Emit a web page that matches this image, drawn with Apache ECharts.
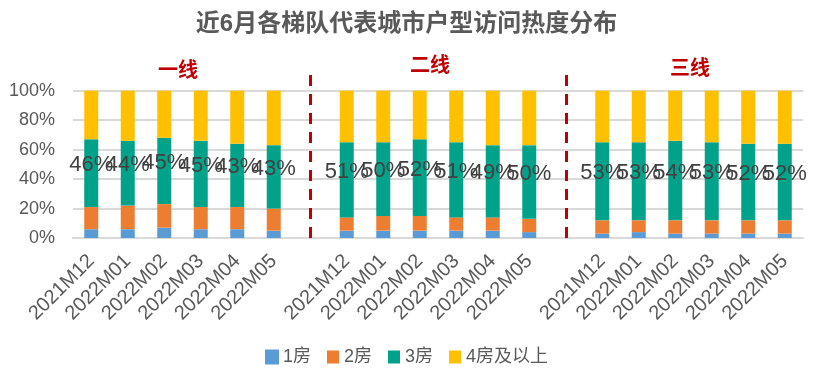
<!DOCTYPE html>
<html>
<head>
<meta charset="utf-8">
<script src="https://cdn.jsdelivr.net/npm/echarts@6/dist/echarts.min.js"></script>
<style>html,body{margin:0;padding:0;background:#fff;}#c{width:813px;height:387px;}</style>
</head>
<body>
<div id="c"></div>
<script>
const months = ['2021M12','2022M01','2022M02','2022M03','2022M04','2022M05'];
const tiers = ['一线','二线','三线'];
const seriesNames = ['1房','2房','3房','4房及以上'];
// values per tier, per month (%)
const room1 = [[6,6,7,6,6,5],[5,5,5,5,5,4],[3,4,3,3,3,3]];
const room2 = [[15,16,16,15,15,15],[9,10,10,9,9,9],[9,8,9,9,9,9]];
const room3 = [[46,44,45,45,43,43],[51,50,52,51,49,50],[53,53,54,53,52,52]];
const room4 = [[33,34,32,34,36,37],[35,35,33,35,37,37],[35,35,34,35,36,36]];
const yTicks = [0,20,40,60,80,100];

const FONT = 'Liberation Sans, Noto Sans CJK SC, sans-serif';
const GRAY = '#595959';

// build categories with an empty slot between tiers
const categories = [];
tiers.forEach((t, i) => {
  if (i > 0) categories.push('');
  months.forEach(m => categories.push(m));
});
function flat(arr) {
  const out = [];
  arr.forEach((g, i) => { if (i > 0) out.push('-'); g.forEach(v => out.push(v)); });
  return out;
}
const sepIdx = [months.length - 0.05, months.length * 2 + 1 + 0.1];

const colors = ['#5B9BD5','#ED7D31','#00A28A','#FFC000'];
const datas = [room1, room2, room3, room4];

const series = seriesNames.map((name, k) => {
  const s = {
    name, type: 'bar', stack: 'all', barWidth: 14,
    data: flat(datas[k]),
    itemStyle: { color: colors[k] },
    emphasis: { disabled: true }
  };
  if (k === 0) {
    s.itemStyle.borderColor = colors[0];
    s.itemStyle.borderWidth = 3;
  }
  if (k === 2) {
    s.label = {
      show: true, position: 'inside', offset: [0, -8],
      formatter: p => p.value + '%',
      fontSize: 22, color: '#404040', fontFamily: FONT,
      textBorderWidth: 0, textBorderColor: 'transparent'
    };
  }
  if (k === 3) {
    s.markLine = {
      silent: true, symbol: 'none',
      label: { show: false },
      lineStyle: { color: '#C00000', type: [11, 8], width: 3 },
      data: sepIdx.map(v => ({ xAxis: v }))
    };
  }
  return s;
});

const chart = echarts.init(document.getElementById('c'));
chart.setOption({
  animation: false,
  color: colors,
  title: {
    text: '近6月各梯队代表城市户型访问热度分布',
    left: 'center', top: 7,
    textStyle: { fontSize: 24, fontWeight: 'bold', color: GRAY, fontFamily: FONT }
  },
  graphic: tiers.map((t, i) => ({
    type: 'text',
    left: [158, 410, 670][i],
    top: [61, 56, 59][i],
    style: { text: t, fill: '#C00000', font: 'bold 20px ' + FONT }
  })),
  legend: {
    bottom: 16, left: 'center',
    itemWidth: 12, itemHeight: 13, itemGap: 16,
    icon: 'rect',
    textStyle: { fontSize: 18, color: GRAY, fontFamily: FONT },
    data: seriesNames
  },
  grid: { left: 73, right: 10, top: 73, bottom: 149, containLabel: false },
  xAxis: {
    type: 'category', data: categories,
    axisLine: { lineStyle: { color: '#D9D9D9', width: 2 } },
    axisTick: { show: false },
    axisLabel: { interval: 0, rotate: 45, fontSize: 20, color: GRAY, margin: 20, fontFamily: FONT }
  },
  yAxis: {
    type: 'value', min: 0, max: 112, interval: 20,
    axisLine: { show: false }, axisTick: { show: false },
    splitLine: { lineStyle: { color: '#D9D9D9', width: 2 }, showMaxLine: false },
    axisLabel: {
      fontSize: 18, color: GRAY, margin: 18, fontFamily: FONT, showMaxLabel: false,
      formatter: v => (yTicks.indexOf(v) >= 0 ? v + '%' : '')
    }
  },
  series
});
</script>
</body>
</html>
